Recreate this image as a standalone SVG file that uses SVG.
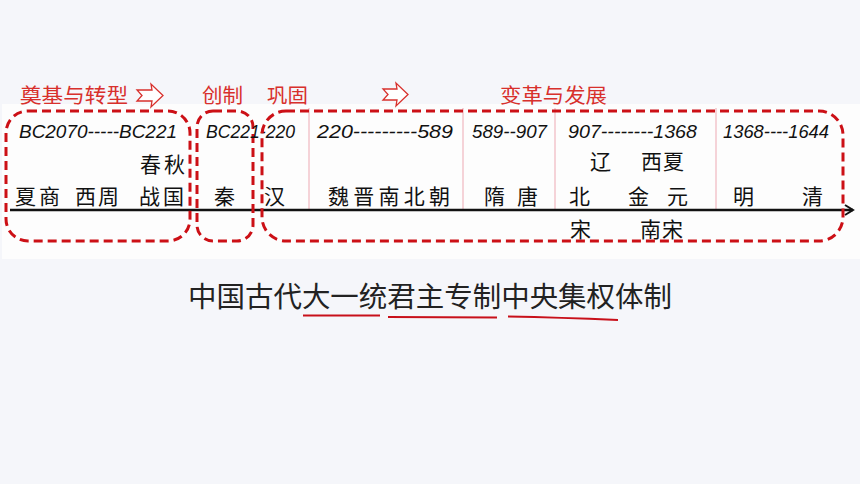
<svg xmlns="http://www.w3.org/2000/svg" width="860" height="484" viewBox="0 0 860 484">
<defs>
<style>
.lbl{font-family:"Noto Sans CJK SC","Noto Sans",sans-serif;font-size:20px;fill:#d8302c}
.box{fill:none;stroke:#cc1016;stroke-width:3;stroke-dasharray:9 5}
.date{font-family:"Liberation Sans","DejaVu Sans",sans-serif;font-style:italic;font-size:18px;fill:#111}
.hz{font-family:"Noto Sans CJK SC","Noto Sans CJK TC",sans-serif;font-size:21px;fill:#111}
.sep{stroke:#f0b8c0;stroke-width:1.2}
.arw{fill:#fff;stroke:#d8302c;stroke-width:1.3}
.ul{stroke:#c8101a;stroke-width:2;fill:none}
</style>
<marker id="ah" markerWidth="12" markerHeight="12" refX="10" refY="6" orient="auto" markerUnits="userSpaceOnUse">
<path d="M2,1 L10,6 L2,11" fill="none" stroke="#111" stroke-width="2"/>
</marker>
</defs>
<rect x="0" y="0" width="860" height="484" fill="#f5f6fa"/>
<rect x="2" y="104" width="858" height="155" fill="#fdfdfd"/>
<g id="separators">
<line class="sep" x1="309" y1="108" x2="309" y2="210"/>
<line class="sep" x1="463" y1="108" x2="463" y2="210"/>
<line class="sep" x1="555" y1="108" x2="555" y2="210"/>
<line class="sep" x1="716" y1="108" x2="716" y2="210"/>
</g>
<g id="connectors">
<line x1="10" y1="210" x2="853" y2="210" stroke="#111" stroke-width="2.5" marker-end="url(#ah)"/>
<polygon class="arw" points="137,90 152,90 151,84 163,95.5 151,107 152,101 137,101 142,95.5"/>
<polygon class="arw" points="383,89 397,89 396,83 408,94.5 396,106 397,100 383,100 388,94.5"/>
</g>
<g id="stage-labels">
<text class="lbl" x="20" y="103" textLength="108" lengthAdjust="spacingAndGlyphs">奠基与转型</text>
<text class="lbl" x="202" y="103" textLength="41" lengthAdjust="spacingAndGlyphs">创制</text>
<text class="lbl" x="267" y="103" textLength="41" lengthAdjust="spacingAndGlyphs">巩固</text>
<text class="lbl" x="500" y="103" textLength="107" lengthAdjust="spacingAndGlyphs">变革与发展</text>
</g>
<g id="node-foundation">
<rect class="box" x="6" y="111" width="184" height="130" rx="22"/>
<text class="date" x="19" y="138" textLength="158" lengthAdjust="spacingAndGlyphs">BC2070-----BC221</text>
<text class="hz" x="140" y="172" textLength="45" lengthAdjust="spacing">春秋</text>
<text class="hz" x="15" y="204" textLength="45" lengthAdjust="spacing">夏商</text>
<text class="hz" x="75" y="204" textLength="44" lengthAdjust="spacing">西周</text>
<text class="hz" x="139" y="204" textLength="45" lengthAdjust="spacing">战国</text>
</g>
<g id="node-creation">
<rect class="box" x="197" y="111" width="56" height="130" rx="16"/>
<text class="date" x="206" y="138" textLength="89" lengthAdjust="spacingAndGlyphs">BC221-220</text>
<text class="hz" x="214" y="204">秦</text>
</g>
<g id="node-development">
<rect class="box" x="262" y="111" width="581" height="130" rx="24"/>
<text class="hz" x="264" y="204">汉</text>
<text class="date" x="317" y="138" textLength="136" lengthAdjust="spacingAndGlyphs">220---------589</text>
<text class="hz" x="328" y="204" textLength="122" lengthAdjust="spacing">魏晋南北朝</text>
<text class="date" x="472" y="138" textLength="75" lengthAdjust="spacingAndGlyphs">589--907</text>
<text class="hz" x="484" y="204">隋</text>
<text class="hz" x="517" y="204">唐</text>
<text class="date" x="568" y="138" textLength="129" lengthAdjust="spacingAndGlyphs">907--------1368</text>
<text class="hz" x="590" y="169">辽</text>
<text class="hz" x="641" y="169" textLength="43" lengthAdjust="spacing">西夏</text>
<text class="hz" x="569" y="204">北</text>
<text class="hz" x="628" y="204">金</text>
<text class="hz" x="667" y="204">元</text>
<text class="hz" x="570" y="237">宋</text>
<text class="hz" x="640" y="237" textLength="43" lengthAdjust="spacing">南宋</text>
<text class="date" x="723" y="138" textLength="106" lengthAdjust="spacingAndGlyphs">1368----1644</text>
<text class="hz" x="733" y="204">明</text>
<text class="hz" x="802" y="204">清</text>
</g>
<g id="summary">
<text x="188" y="307" font-family="Noto Sans CJK SC, sans-serif" font-size="28" fill="#222" textLength="484" lengthAdjust="spacingAndGlyphs">中国古代大一统君主专制中央集权体制</text>
<path class="ul" d="M303,315.5 L380,315.5"/>
<path class="ul" d="M388,317 L497,317.5"/>
<path class="ul" d="M508,316.5 Q560,317.5 618,320"/>
</g>
</svg>
